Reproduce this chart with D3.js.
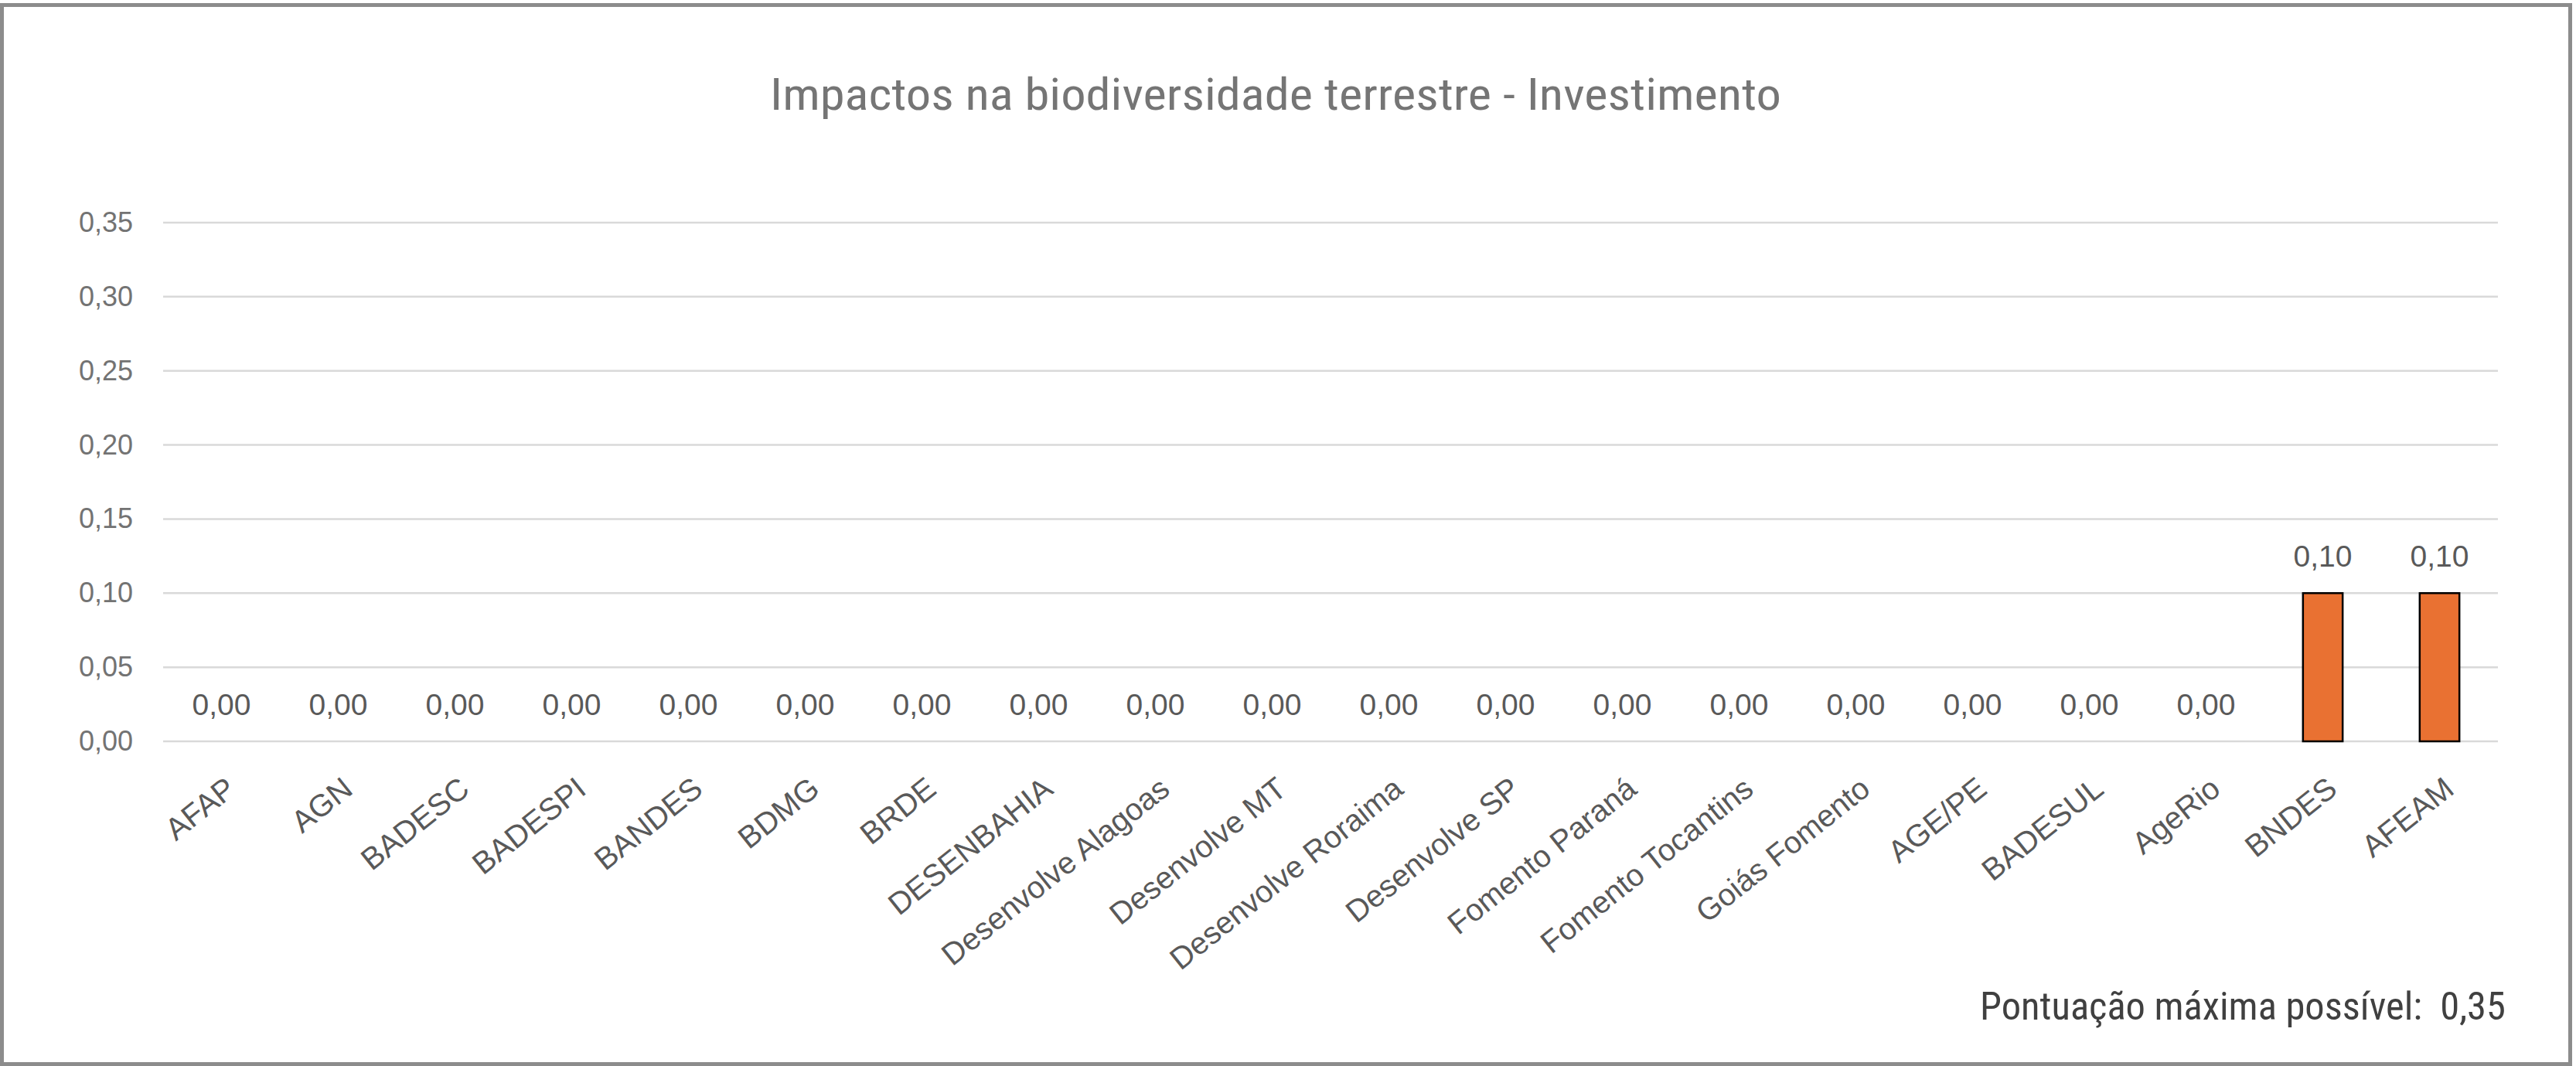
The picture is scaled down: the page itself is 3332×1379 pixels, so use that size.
<!DOCTYPE html>
<html>
<head>
<meta charset="utf-8">
<script src="https://cdn.jsdelivr.net/npm/d3@7"></script>
<style>
  html, body { margin: 0; padding: 0; background: #fff; }
  svg { display: block; }
</style>
</head>
<body>
<svg id="chart" width="3332" height="1379"></svg>
<script>
const categories = ["AFAP","AGN","BADESC","BADESPI","BANDES","BDMG","BRDE","DESENBAHIA","Desenvolve Alagoas","Desenvolve MT","Desenvolve Roraima","Desenvolve SP","Fomento Paraná","Fomento Tocantins","Goiás Fomento","AGE/PE","BADESUL","AgeRio","BNDES","AFEAM"];
const values = [0,0,0,0,0,0,0,0,0,0,0,0,0,0,0,0,0,0,0.10,0.10];
const yTicks = [0,0.05,0.10,0.15,0.20,0.25,0.30,0.35];
const titleText = "Impactos na biodiversidade terrestre - Investimento";
const footerText = "Pontuação máxima possível:  0,35";

const W = 3332, H = 1379;
const plot = {left: 211, right: 3231, top: 288, bottom: 959};
const svg = d3.select("#chart");
const fmt = v => d3.format(".2f")(v).replace(".", ",");

// frame
svg.append("rect").attr("x", 2.5).attr("y", 6.5).attr("width", 3322).attr("height", 1370)
  .attr("fill", "#fff").attr("stroke", "#8c8c8c").attr("stroke-width", 5);

const x = d3.scaleBand().domain(categories).range([plot.left, plot.right]).paddingInner(0.66).paddingOuter(0.33);
const y = d3.scaleLinear().domain([0, 0.35]).range([plot.bottom, plot.top]);

// gridlines
svg.append("g").selectAll("line").data(yTicks).join("line")
  .attr("x1", plot.left).attr("x2", plot.right)
  .attr("y1", d => y(d)).attr("y2", d => y(d))
  .attr("stroke", "#d9d9d9").attr("stroke-width", 2.5);

// y axis labels
const yAxis = d3.axisLeft(y).tickValues(yTicks).tickFormat(fmt).tickSize(0).tickPadding(39);
const yg = svg.append("g").attr("transform", `translate(${plot.left},0)`).call(yAxis);
yg.select(".domain").remove();
yg.selectAll("text").attr("font-family", "Liberation Sans, Arial, sans-serif").attr("font-size", 36).attr("fill", "#737373");

// x axis labels
const xAxis = d3.axisBottom(x).tickSize(0).tickPadding(0);
const xg = svg.append("g").attr("transform", `translate(0,${plot.bottom})`).call(xAxis);
xg.select(".domain").remove();
xg.selectAll("text")
  .attr("font-family", "Liberation Sans, Arial, sans-serif").attr("font-size", 40).attr("fill", "#595959")
  .attr("text-anchor", "end").attr("dy", null).attr("y", 0)
  .attr("transform", "translate(21,66) rotate(-38.5)");

// bars
svg.append("g").selectAll("rect").data(categories).join("rect")
  .attr("x", d => x(d)).attr("width", x.bandwidth())
  .attr("y", (d, i) => y(values[i])).attr("height", (d, i) => y(0) - y(values[i]))
  .attr("fill", "#e97132").attr("stroke", (d, i) => values[i] > 0 ? "#000" : "none").attr("stroke-width", 2.5);

// data labels
svg.append("g").selectAll("text").data(categories).join("text")
  .attr("x", d => x(d) + x.bandwidth() / 2)
  .attr("y", (d, i) => y(values[i]) - 34)
  .attr("text-anchor", "middle")
  .attr("font-family", "Liberation Sans, Arial, sans-serif").attr("font-size", 39).attr("fill", "#595959")
  .text((d, i) => fmt(values[i]));

// title
svg.append("text").attr("x", 1650).attr("y", 142).attr("text-anchor", "middle")
  .attr("font-family", "Liberation Sans Narrow, Roboto Condensed, Roboto, sans-serif").attr("font-size", 58)
  .attr("fill", "#757575").attr("textLength", 1308).attr("lengthAdjust", "spacingAndGlyphs")
  .text(titleText);

// footer
svg.append("text").attr("x", 2561).attr("y", 1319).attr("text-anchor", "start")
  .attr("font-family", "Liberation Sans Narrow, Roboto Condensed, Roboto, sans-serif").attr("font-size", 50)
  .attr("fill", "#404040").attr("textLength", 680).attr("lengthAdjust", "spacingAndGlyphs")
  .attr("xml:space", "preserve").style("white-space", "pre")
  .text(footerText);
</script>
</body>
</html>
